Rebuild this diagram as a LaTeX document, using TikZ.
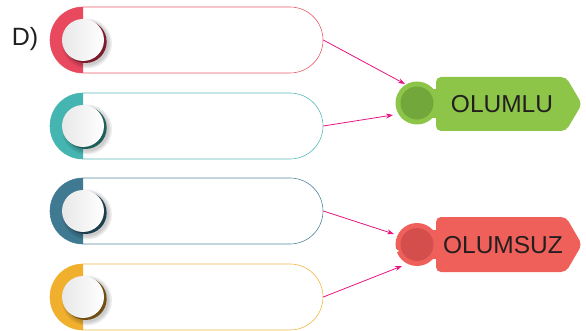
\documentclass[tikz,border=0pt]{standalone}
\usepackage{fontspec}
\setmainfont{Liberation Sans}
\usetikzlibrary{shapes.misc,arrows.meta}
\definecolor{cpink}{HTML}{E8495F}
\definecolor{cpinkdk}{HTML}{7A1C2C}
\definecolor{cteal}{HTML}{45B5B1}
\definecolor{ctealdk}{HTML}{1D5E5B}
\definecolor{cblue}{HTML}{3F7A92}
\definecolor{cbluedk}{HTML}{1C3E4E}
\definecolor{cyel}{HTML}{F0B02E}
\definecolor{cyeldk}{HTML}{6E4E12}
\definecolor{cgreen}{HTML}{8CC548}
\definecolor{cgreendk}{HTML}{72A83B}
\definecolor{cred}{HTML}{F0605A}
\definecolor{creddk}{HTML}{D34E4C}
\definecolor{cmag}{HTML}{E6157F}
\definecolor{ctext}{HTML}{231F20}
\newcommand\mypill[4]{%
  \node[pillbox, draw=#3!90] (#1) at (186.5,#2) {};
  \fill[#3] (83,#2+33) arc[start angle=90,end angle=270,radius=33] -- cycle;
  \foreach \r in {22,23.5,25}{\fill[black,opacity=0.07] (87,#2+3.5) circle (\r);}
  \fill[#4] (85.5,#2+1.8) circle (21.2);
  \shade[left color=gray!18, right color=white] (83,#2) circle (21);
}
\begin{document}
\begin{tikzpicture}[x=1pt,y=-1pt,
  pillbox/.style={rounded rectangle, minimum width=273pt, minimum height=66pt, inner sep=0pt, line width=0.6pt},
  conn/.style={cmag, line width=0.8pt, -{Stealth[length=7pt,width=5pt]}},
  labeltext/.style={font=\fontsize{24.5}{26}\selectfont, text=ctext}]
\useasboundingbox (0,0) rectangle (586,331);
\node[font=\fontsize{25}{27}\selectfont, text=ctext] (d) at (25,39) {D)};
\mypill{p1}{40}{cpink}{cpinkdk}
\mypill{p2}{126}{cteal}{ctealdk}
\mypill{p3}{211}{cblue}{cbluedk}
\mypill{p4}{297}{cyel}{cyeldk}
% green label
\fill[cgreen] (417,103) circle (21.5);
\fill[cgreen] (412,89) rectangle (442,118);
\fill[cgreen, rounded corners=5pt] (436,77) -- (566,77) -- (582,104) -- (566,131) -- (436,131) -- cycle;
\fill[white] (389,85) -- (399,92) -- (389,98) -- cycle;
\fill[cgreendk] (417,103) circle (16.5);
\node[labeltext] (olumlu) at (502,104) {OLUMLU};
% red label
\fill[cred] (417,244.5) circle (21.5);
\fill[cred] (412,230) rectangle (442,259);
\fill[cred, rounded corners=5pt] (436,217) -- (566,217) -- (582,244.5) -- (566,272) -- (436,272) -- cycle;
\fill[white] (389,244) -- (399,251) -- (389,257) -- cycle;
\fill[creddk] (417,244.5) circle (16.5);
\node[labeltext] (olumsuz) at (503,245) {OLUMSUZ};
% connectors
\coordinate (e1) at (405,84);
\coordinate (e2) at (393,115);
\coordinate (e3) at (394,234);
\coordinate (e4) at (402,266);
\draw[conn] (p1.east) -- (e1);
\draw[conn] (p2.east) -- (e2);
\draw[conn] (p3.east) -- (e3);
\draw[conn] (p4.east) -- (e4);
\end{tikzpicture}
\end{document}
